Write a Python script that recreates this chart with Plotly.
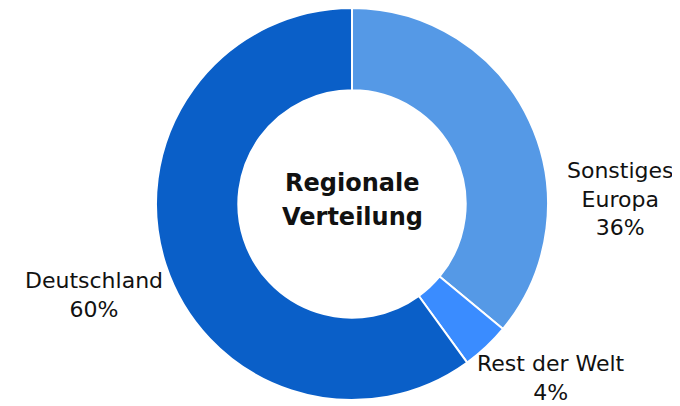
import plotly.graph_objects as go

regions = ["Sonstiges Europa", "Rest der Welt", "Deutschland"]
region_labels = ["Sonstiges<br>Europa", "Rest der Welt", "Deutschland"]
shares = [36, 4, 60]
colors = ["#5599e6", "#3a8cff", "#0a5fc8"]

# page has an 8px body margin; figure sized to fit the 680x406 window
OFF = 8
W, H = 680 - OFF, 406 - OFF
FONT = "DejaVu Sans"


def px(sx):
    return (sx - OFF) / W


def py(sy):
    return 1 - (sy - OFF) / H


# label anchor positions (window pixels) for the outside labels
label_pos = [(620, 199), (551, 378), (94, 295)]

fig = go.Figure(go.Pie(
    labels=regions,
    values=shares,
    textinfo="none",
    sort=False,
    direction="clockwise",
    rotation=0,
    hole=0.58,
    marker=dict(colors=colors, line=dict(color="white", width=2)),
    domain=dict(x=[px(156), px(548)], y=[py(400), py(8)]),
    showlegend=False,
    hoverinfo="label+percent",
))

total = sum(shares)
for name, val, (sx, sy) in zip(region_labels, shares, label_pos):
    fig.add_annotation(
        text=f"{name}<br>{round(100 * val / total)}%",
        x=px(sx), y=py(sy), xref="paper", yref="paper",
        xanchor="center", yanchor="middle",
        showarrow=False,
        font=dict(family=FONT, size=22, color="#111111"),
    )

title_lines = ["Regionale", "Verteilung"]
title_y = [183, 217]
for line, sy in zip(title_lines, title_y):
    fig.add_annotation(
        text=f"<b>{line}</b>",
        x=px(352), y=py(sy), xref="paper", yref="paper",
        xanchor="center", yanchor="middle",
        showarrow=False,
        font=dict(family=FONT, size=24, color="#111111"),
    )

fig.update_layout(
    width=W, height=H,
    margin=dict(l=0, r=0, t=0, b=0),
    paper_bgcolor="white",
    plot_bgcolor="white",
)

fig.write_html("out.html")
